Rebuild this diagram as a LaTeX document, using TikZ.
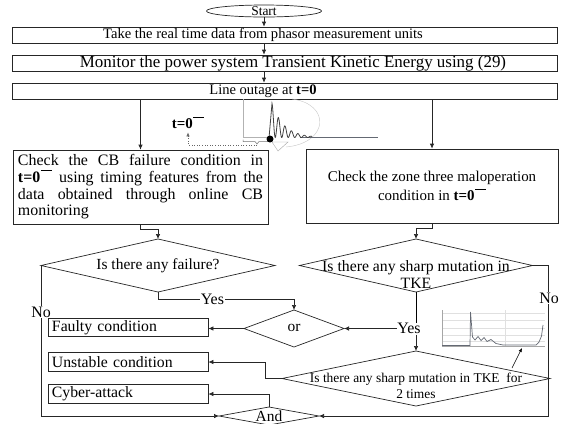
\documentclass[tikz,border=0pt]{standalone}
\usepackage{fontspec}
\setmainfont{Liberation Serif}
\usetikzlibrary{arrows.meta, positioning, shapes.geometric, calc}

\newcommand{\tzerobar}{\textbf{t=0}\kern0.6pt\rule[0.74em]{0.72em}{0.6pt}}

\begin{document}
\begin{tikzpicture}[
    x=1bp, y=-1bp,
    font=\fontsize{15.5}{17}\selectfont,
    procbox/.style={draw=black!85, line width=0.7bp, fill=white, inner sep=0pt, minimum height=16bp},
    condbox/.style={draw=black!85, line width=0.7bp, fill=white, inner xsep=4bp, inner ysep=0pt, text width=152bp, align=left, minimum height=18.5bp, font=\fontsize{15.8}{17}\selectfont},
    decision/.style={diamond, draw=black!85, line width=0.7bp, fill=white, inner sep=0pt, outer sep=0pt},
    flowarrow/.style={-{Latex[length=5bp,width=4.5bp]}, line width=0.7bp, draw=black!85},
    thinarrow/.style={-{Latex[length=4bp,width=3.5bp]}, line width=0.5bp, draw=black},
    tag/.style={fill=white, inner sep=0.5bp, font=\fontsize{16}{17}\selectfont},
    gridline/.style={draw=black!12, line width=0.4bp},
]

\definecolor{tkeline}{RGB}{100,105,115}
\useasboundingbox (0,0) rectangle (568,423);

% ===== TOP: data acquisition =====
\node[ellipse, draw=black!85, line width=0.7bp, minimum width=115bp, minimum height=12bp, inner sep=0pt] (start) at (264,11) {};
\node[font=\fontsize{13.5}{15}\selectfont] (starttext) at (264,11) {Start};

\node[procbox, minimum width=545bp] (pmu) at (284.5,35) {};
\node[font=\fontsize{14.6}{16}\selectfont] (pmutext) at (263,35) {Take the real time data from phasor measurement units};

\node[procbox, minimum width=545bp] (tke) at (284.5,63) {};
\node[font=\fontsize{17}{18}\selectfont] (tketext) at (293,63) {Monitor the power system Transient Kinetic Energy using (29)};

\node[procbox, minimum width=545bp] (outage) at (284.5,91) {};
\node[font=\fontsize{14.6}{16}\selectfont] (outagetext) at (263,91) {Line outage at \textbf{t=0}};

\draw[flowarrow] (start.south) -- (start.south |- pmu.north);
\draw[flowarrow] (start.south |- pmu.south) -- (start.south |- tke.north);
\draw[flowarrow] (start.south |- tke.south) -- (start.south |- outage.north);

% ===== TKE waveform inset after the outage =====
\draw[black!30, line width=0.5bp] (243,99) -- (243,137.5) -- (272,137.5);
\draw[black!22, line width=0.4bp] (292,99) .. controls (331,104) and (329,143) .. (286,147);
\draw[tkeline, line width=0.5bp] (300,137.5) -- (378,137.5);
\draw[black!75, line width=0.8bp] (269,138) -- (272,103.5) -- plot[domain=0:40, samples=160] ({272+\x}, {137.5-34*exp(-\x/12)*(0.5+0.5*cos(360*\x/6.5))});
\draw[black!55, line width=0.5bp] (243,139.5) -- (243,141.5) -- (255,141.5) -- (257,144) -- (259,141.5) -- (268,141.5) -- (268,139.5);
\draw[black!35, fill=white, line width=0.4bp] (272,142) -- (288,142) -- (278,151) -- cycle;
\node[font=\fontsize{15}{16}\selectfont] (tlabel) at (188,123) {\tzerobar};
\coordinate (notch) at (257,145);
\draw[black!60, dotted, line width=0.6bp, -{Latex[length=4bp,width=3.5bp]}] (notch) -| (tlabel.south);
\fill[black] (270,139) circle[radius=3.5bp];

% ===== Checking boxes =====
\node[procbox, minimum width=255bp, minimum height=74bp, text width=245bp, align=justify, font=\fontsize{16}{16.7}\selectfont] (cbcheck) at (140.5,187) {Check the CB failure condition in\linebreak \tzerobar{} using timing features from the\linebreak data obtained through online CB\linebreak monitoring};
\node[procbox, minimum width=252bp, minimum height=74bp, align=center, font=\fontsize{15}{19}\selectfont] (zonecheck) at (432,186) {Check the zone three maloperation\\condition in \tzerobar};

\draw[flowarrow] (cbcheck.north |- outage.south) -- (cbcheck.north);
\draw[flowarrow] (zonecheck.north |- outage.south) -- (zonecheck.north);

% ===== Decisions =====
\node[decision, minimum width=234bp, minimum height=53bp] (failq) at (158,265.5) {};
\node (failtext) at (158,266) {Is there any failure?};
\node[decision, minimum width=233bp, minimum height=53bp] (sharpq) at (416,265.5) {};
\node[align=center, font=\fontsize{15.8}{17}\selectfont] (sharptext) at (416,274.5) {Is there any sharp mutation in\\TKE};
\node[decision, minimum width=100bp, minimum height=37bp] (orgate) at (294,328.5) {};
\node (ortext) at (294,328) {or};
\node[decision, minimum width=268bp, minimum height=55bp] (twiceq) at (416,378.5) {};
\node[align=center, font=\fontsize{13.5}{15.5}\selectfont] (twicetext) at (416,386) {Is there any sharp mutation in TKE\ \ for\\2 times};
\node[decision, minimum width=100bp, minimum height=18bp] (andgate) at (269,416) {};
\node[anchor=base, inner sep=0pt] (andtext) at (269,421) {And};

\draw[flowarrow] (cbcheck.south) -- ++(0,5) -| (failq.north);
\draw[flowarrow] (zonecheck.south) -- ++(0,5) -| (sharpq.north);

% ===== Outcomes =====
\node[condbox] (faulty) at (128,327.5) {Faulty condition};
\node[condbox] (unstable) at (128,362) {Unstable condition};
\node[condbox] (cyber) at (128,394) {Cyber-attack};

\draw[flowarrow] (failq.south) -- ++(0,7) -| node[tag, pos=0.2] (yes1) {Yes} (orgate.north);
\coordinate (yesjoin) at (sharpq.south |- orgate.east);
\node[tag] (yes2) at ($(yesjoin)+(-7,0)$) {Yes};
\draw (sharpq.south) -- (sharpq.south |- yes2.north);
\draw[flowarrow] (yes2.west) -- (orgate.east);
\draw[flowarrow] (sharpq.south |- yes2.south) -- (twiceq.north);

\draw[flowarrow] (orgate.west) -- (orgate.west -| faulty.east);
\draw[flowarrow] (twiceq.west) -- ++(-17,0) |- (unstable.east);
\draw[flowarrow] (andgate.north) |- (cyber.east);

\draw[flowarrow] (failq.west) |- (andgate.west);
\node[tag] (no1) at (41,312) {No};
\draw[flowarrow] (sharpq.east) -- ++(16,0) |- (andgate.east);
\node[tag] (no2) at (549,298) {No};

% ===== TKE trace with two mutations =====
\foreach \gy in {313,320,328,335,341} {
    \draw[gridline] (442,\gy) -- (545,\gy);
}
\draw[gridline] (505,310) -- (505,346);
\draw[black!35, line width=0.5bp] (442,310) -- (442,346) -- (545,346);
\draw[tkeline, line width=0.7bp] (442,345.5) -- (470,345.5) -- (470.5,312) -- (472.5,337) -- (475,340) -- (478,336.5) -- (481,340.5) -- (484,337.5) -- (487,341.5) -- (491,339.5) -- (496,343.5) -- (503,345) -- (536,345) -- (539,342) -- (541.5,336) -- (543,325);
\coordinate (mutationtip) at (522,348);
\coordinate (mutationtail) at (512,368);
\draw[thinarrow] (mutationtail) -- (mutationtip);

\end{tikzpicture}
\end{document}
